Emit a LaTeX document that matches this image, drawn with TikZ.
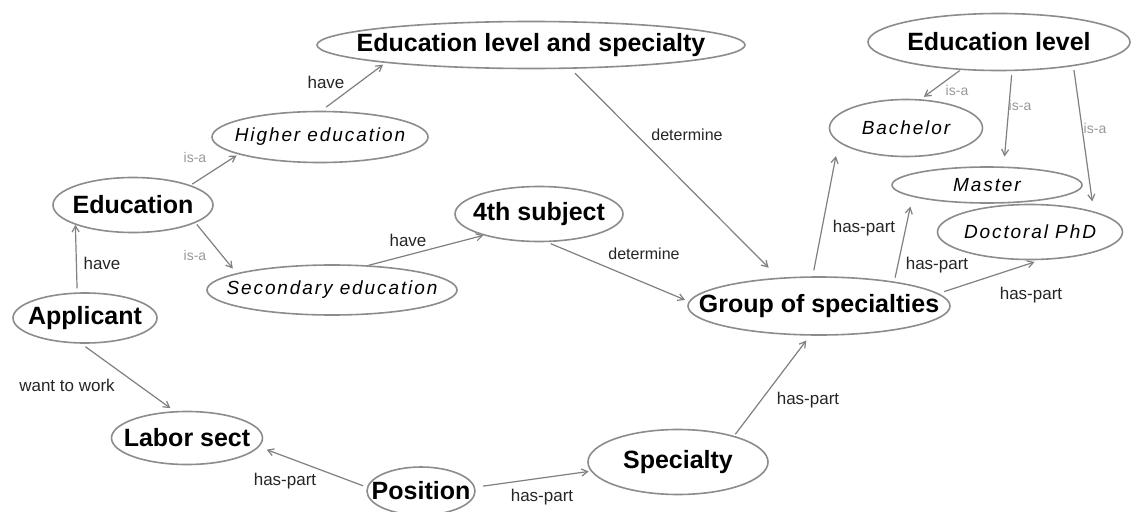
\documentclass[tikz,border=0pt]{standalone}
\usepackage{fontspec}
\setmainfont{Liberation Sans}
\newfontfamily\spacedfont[LetterSpace=10]{Liberation Sans}
\usetikzlibrary{arrows.meta,shapes.geometric}
\newcommand{\tight}[1]{\makebox[0pt][c]{#1}}
\begin{document}
\begin{tikzpicture}[x=1pt,y=-1pt,
  concept/.style={ellipse,draw=black!45,line width=1.6pt,inner sep=0pt,
    font=\fontsize{25}{29}\selectfont\bfseries},
  sub/.style={ellipse,draw=black!45,line width=1.6pt,inner sep=0pt,
    font=\spacedfont\fontsize{19}{22}\selectfont\itshape},
  rel/.style={draw=black!50,line width=1.2pt,-{Straight Barb[length=6pt,width=7pt,line width=1.2pt]}},
  lab/.style={font=\fontsize{17}{20}\selectfont,text=black!85,inner sep=1pt},
  isa/.style={font=\fontsize{14}{16}\selectfont,text=black!40,inner sep=1pt}]
\useasboundingbox[fill=white] (0,0) rectangle (1137,511);
% nodes
\node[concept,minimum width=428pt,minimum height=47pt] (els) at (531,45) {\tight{Education level and specialty}};
\node[concept,minimum width=160pt,minimum height=55pt] (edu) at (133,205) {\tight{Education}};
\node[sub,minimum width=216pt,minimum height=51pt] (high) at (320,137) {\tight{Higher education}};
\node[sub,minimum width=250pt,minimum height=50pt] (sec) at (332,290) {\tight{Secondary education}};
\node[concept,minimum width=168pt,minimum height=55pt] (fourth) at (539,214) {\tight{4th subject}};
\node[concept,minimum width=144pt,minimum height=50pt] (app) at (85,318) {\tight{Applicant}};
\node[concept,minimum width=151pt,minimum height=53pt] (labor) at (187,438) {\tight{Labor sect}};
\node[concept,minimum width=108pt,minimum height=48pt] (pos) at (421,491) {\tight{Position}};
\node[concept,minimum width=180pt,minimum height=65pt] (spec) at (678,462) {\tight{Specialty}};
\node[concept,minimum width=262pt,minimum height=58pt] (group) at (819,306) {\tight{Group of specialties}};
\node[concept,minimum width=262pt,minimum height=57pt] (edlev) at (999,42) {\tight{Education level}};
\node[sub,minimum width=153pt,minimum height=57pt] (bach) at (906,128) {\tight{Bachelor}};
\node[sub,minimum width=190pt,minimum height=36pt] (master) at (987,185) {\tight{Master}};
\node[sub,minimum width=185pt,minimum height=55pt] (doc) at (1030,232) {\tight{Doctoral PhD}};
% connectors
\draw[rel,shorten <=4pt] (app.107) -- (edu.199);
\draw[rel,shorten <=2pt,shorten >=2pt] (edu.19) -- (high.192);
\draw[rel,shorten <=2pt,shorten >=6pt] (edu.344) -- (sec.170);
\draw[rel,shorten <=6pt,shorten >=3pt] (high.87) -- (els.187);
\draw[rel,shorten <=6pt,shorten >=14pt] (els.329) -- (group.145);
\draw[rel] (sec.34) -- (fourth.201);
\draw[rel,shorten <=4pt,shorten >=4pt] (fourth.286) -- (group.178);
\draw[rel,shorten <=2pt,shorten >=6pt] (spec.25) -- (group.253);
\draw[rel,shorten <=8pt,shorten >=2pt] (pos.4) -- (spec.186);
\draw[rel,shorten <=4pt,shorten >=8pt] (pos.176) -- (labor.353);
\draw[rel,shorten <=5pt,shorten >=5pt] (app.262) -- (labor.115);
\draw[rel,shorten <=6pt,shorten >=14pt] (group.102) -- (bach.192);
\draw[rel,shorten <=4pt,shorten >=10pt] (group.18) -- (master.189);
\draw[rel,shorten <=6pt,shorten >=6pt] (group.6) -- (doc.290);
\draw[rel,shorten <=1pt,shorten >=4pt] (edlev.216) -- (bach.63);
\draw[rel,shorten <=4pt,shorten >=10pt] (edlev.294) -- (master.48);
\draw[rel,shorten <=4pt,shorten >=10pt] (edlev.342) -- (doc.18);
% labels
\node[lab] (l1) at (102,263) {have};
\node[isa] (l2) at (195,157) {is-a};
\node[isa] (l3) at (195,255) {is-a};
\node[lab] (l4) at (326,82) {have};
\node[lab,font=\fontsize{16}{18}\selectfont] (l5) at (687,135) {determine};
\node[lab] (l6) at (408,240) {have};
\node[lab,font=\fontsize{16}{18}\selectfont] (l7) at (644,254) {determine};
\node[lab] (l8) at (808,400) {has-part};
\node[lab] (l9) at (542,497) {has-part};
\node[lab] (l10) at (285,481) {has-part};
\node[lab] (l11) at (67,385) {want to work};
\node[lab] (l12) at (864,228) {has-part};
\node[lab] (l13) at (937,265) {has-part};
\node[lab] (l14) at (1031,295) {has-part};
\node[isa] (l15) at (957,90) {is-a};
\node[isa] (l16) at (1020,105) {is-a};
\node[isa] (l17) at (1095,128) {is-a};
\end{tikzpicture}
\end{document}
